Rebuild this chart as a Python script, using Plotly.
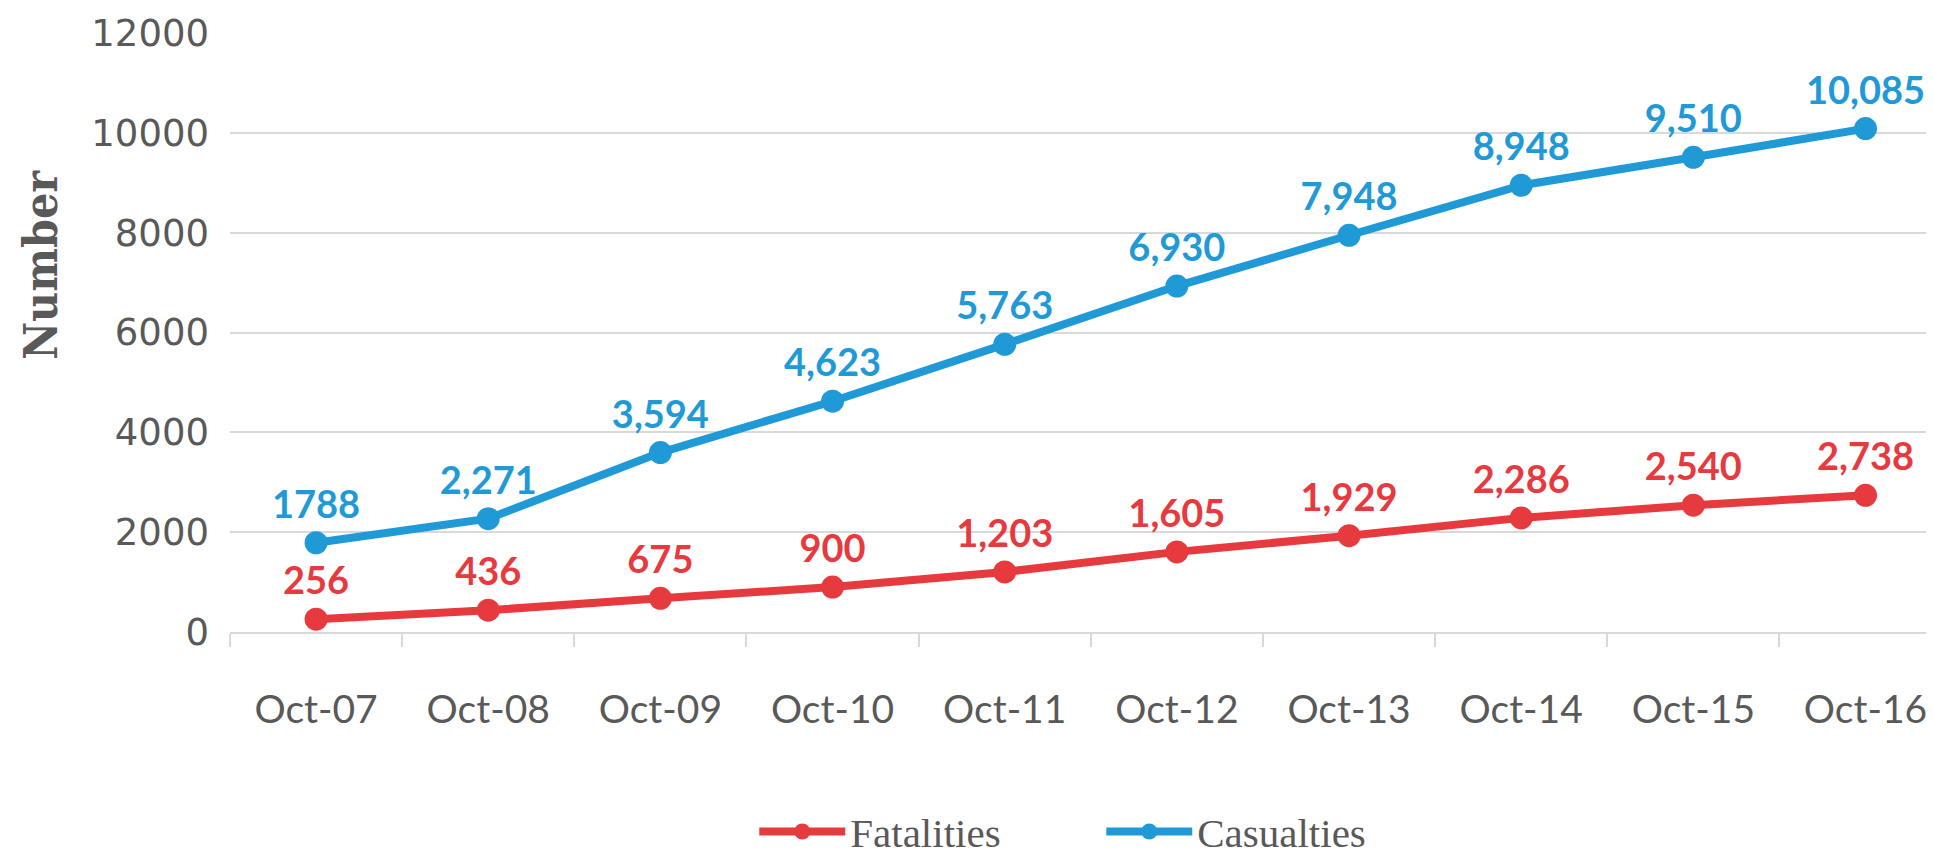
import plotly.graph_objects as go

categories = ["Oct-07", "Oct-08", "Oct-09", "Oct-10", "Oct-11",
              "Oct-12", "Oct-13", "Oct-14", "Oct-15", "Oct-16"]
fatalities = [256, 436, 675, 900, 1203, 1605, 1929, 2286, 2540, 2738]
casualties = [1788, 2271, 3594, 4623, 5763, 6930, 7948, 8948, 9510, 10085]
fatality_labels = ["256", "436", "675", "900", "1,203", "1,605", "1,929",
                   "2,286", "2,540", "2,738"]
casualty_labels = ["1788", "2,271", "3,594", "4,623", "5,763", "6,930",
                   "7,948", "8,948", "9,510", "10,085"]
y_ticks = [0, 2000, 4000, 6000, 8000, 10000, 12000]

RED = "#E63A3F"
BLUE = "#1F9AD6"
GREY = "#595959"
GRID = "#D9D9D9"

# the page body adds an 8px offset; the figure is sized to fill the rest
OFF = 8
W, H = 1934 - OFF, 857 - OFF
ML = 229.6 - OFF
MT = 32.5 - OFF
MB = H - (632 - OFF)
MR = 0

fig = go.Figure()
fig.add_trace(go.Scatter(
    x=categories, y=fatalities, name="Fatalities",
    mode="lines+markers+text",
    line=dict(color=RED, width=8),
    marker=dict(color=RED, size=23),
    text=fatality_labels, textposition="top center",
    textfont=dict(family="Lato", size=38, color=RED, weight="bold"),
    cliponaxis=False,
))
fig.add_trace(go.Scatter(
    x=categories, y=casualties, name="Casualties",
    mode="lines+markers+text",
    line=dict(color=BLUE, width=8),
    marker=dict(color=BLUE, size=23),
    text=casualty_labels, textposition="top center",
    textfont=dict(family="Lato", size=38, color=BLUE, weight="bold"),
    cliponaxis=False,
))

plot_w = W - ML - MR
plot_h = H - MT - MB

fig.update_layout(
    width=W, height=H,
    margin=dict(l=ML, r=MR, t=MT, b=MB, pad=0, autoexpand=False),
    paper_bgcolor="white", plot_bgcolor="white",
    showlegend=True,
    legend=dict(
        orientation="h",
        x=(746 - ML) / plot_w, xanchor="left",
        y=-(824 - (H - MB)) / plot_h, yanchor="middle",
        font=dict(family="Liberation Serif", size=41, color=GREY),
        itemwidth=86,
        entrywidth=246, entrywidthmode="pixels",
        bgcolor="rgba(0,0,0,0)",
    ),
    xaxis=dict(
        type="category",
        range=[-0.5, 9.5 - (1951.6 - 1934) / 172.2],
        automargin=False,
        showgrid=False,
        showline=True, linecolor=GRID, linewidth=2,
        ticks="outside", tickson="boundaries", ticklen=13,
        tickcolor=GRID, tickwidth=2,
        tickfont=dict(family="Lato", size=39, color=GREY),
        ticklabelstandoff=42,
        fixedrange=True,
    ),
    yaxis=dict(
        range=[0, 12000],
        automargin=False,
        tickvals=y_ticks,
        ticktext=[str(v) for v in y_ticks],
        showgrid=True, gridcolor=GRID, gridwidth=1.5,
        zeroline=False, showline=False,
        ticks="",
        tickfont=dict(family="DejaVu Sans", size=37, color=GREY),
        ticklabelstandoff=20,
        fixedrange=True,
    ),
    annotations=[dict(
        text="<b>Number</b>", textangle=-90,
        xref="paper", yref="paper",
        x=(41 - OFF - ML) / plot_w, y=((H - MB) - (264 - OFF)) / plot_h,
        xanchor="center", yanchor="middle", showarrow=False,
        font=dict(family="DejaVu Serif Condensed, DejaVu Serif", size=46, color=GREY),
    )],
)

fig.write_html("out.html")
